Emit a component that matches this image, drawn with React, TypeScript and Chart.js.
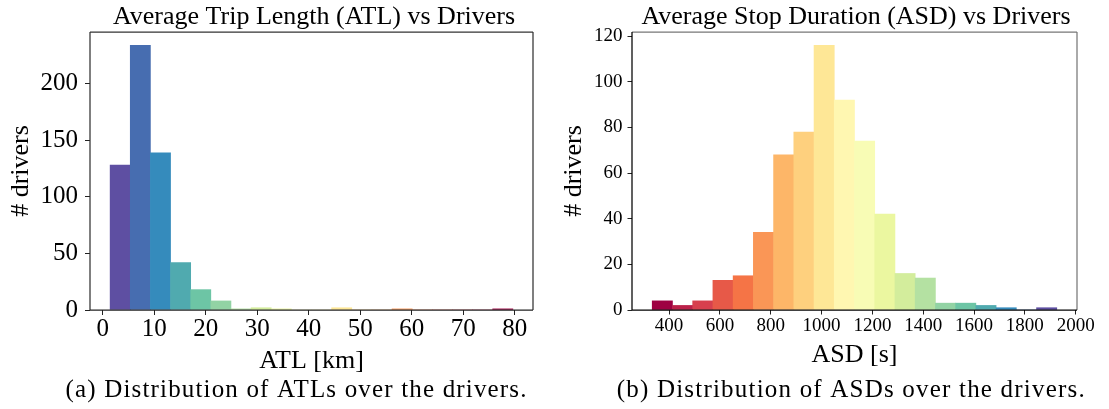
import React, { useEffect, useRef } from "react";
import { Chart, registerables } from "chart.js";

Chart.register(...registerables);

const SERIF = '"Liberation Serif", "Times New Roman", Times, serif';

// Average Trip Length: 20 equal-width bins (km) and number of drivers in each
const atlBinEdges = [
  1.42, 5.33, 9.24, 13.15, 17.06, 20.97, 24.88, 28.79, 32.7, 36.61, 40.52,
  44.43, 48.34, 52.25, 56.16, 60.07, 63.98, 67.89, 71.8, 75.71, 79.62,
];
const atlCounts = [128, 234, 139, 42, 18, 8, 1, 2, 1, 0, 0, 2, 0, 0, 1, 0, 0, 0, 0, 1];
const atlTicksX = [0, 10, 20, 30, 40, 50, 60, 70, 80];
const atlTicksY = [0, 50, 100, 150, 200];

// Average Stop Duration: 20 equal-width bins (s) and number of drivers in each
const asdBinEdges = [
  333.6, 413.2, 492.8, 572.4, 652.0, 731.6, 811.2, 890.8, 970.4, 1050.0, 1129.6,
  1209.2, 1288.8, 1368.4, 1448.0, 1527.6, 1607.2, 1686.8, 1766.4, 1846.0, 1925.6,
];
const asdCounts = [4, 2, 4, 13, 15, 34, 68, 78, 116, 92, 74, 42, 16, 14, 3, 3, 2, 1, 0, 1];
const asdTicksX = [400, 600, 800, 1000, 1200, 1400, 1600, 1800, 2000];
const asdTicksY = [0, 20, 40, 60, 80, 100, 120];

// matplotlib "Spectral" colormap anchors
const SPECTRAL = [
  "#9e0142", "#d53e4f", "#f46d43", "#fdae61", "#fee08b", "#ffffbf",
  "#e6f598", "#abdda4", "#66c2a5", "#3288bd", "#5e4fa2",
];

function hexToRgb(h: string): number[] {
  const v = parseInt(h.slice(1), 16);
  return [(v >> 16) & 255, (v >> 8) & 255, v & 255];
}

function spectral(t: number): string {
  const n = SPECTRAL.length - 1;
  const pos = Math.min(Math.max(t, 0), 1) * n;
  const i = Math.min(Math.floor(pos), n - 1);
  const f = pos - i;
  const a = hexToRgb(SPECTRAL[i]);
  const b = hexToRgb(SPECTRAL[i + 1]);
  const c = a.map((av, k) => Math.round(av + (b[k] - av) * f));
  return `rgb(${c[0]},${c[1]},${c[2]})`;
}

type PanelSpec = {
  edges: number[];
  counts: number[];
  xTicks: number[];
  yTicks: number[];
  reversedColors: boolean;
  title: string;
  xLabel: string;
  yLabel: string;
  caption: string;
  tickFont: number;
  tickLen: number;
  yTickPad: number;
  yScaleWidth: number;
  padRight: number;
  titleX: number;
  yLabelX: number;
  xLabelX: number;
  xLabelY: number;
  captionX: number;
  captionWidth: number;
  frame: { left: string; bottom: string; top: string; right: string };
};

const atlPanel: PanelSpec = {
  edges: atlBinEdges,
  counts: atlCounts,
  xTicks: atlTicksX,
  yTicks: atlTicksY,
  reversedColors: true,
  title: "Average Trip Length (ATL) vs Drivers",
  xLabel: "ATL [km]",
  yLabel: "# drivers",
  caption: "(a) Distribution of ATLs over the drivers.",
  tickFont: 25,
  tickLen: 5,
  yTickPad: 7,
  yScaleWidth: 90,
  padRight: 22,
  titleX: 314,
  yLabelX: 21,
  xLabelX: 311.5,
  xLabelY: 368,
  captionX: 296,
  captionWidth: 461,
  frame: { left: "#333", bottom: "#222", top: "#333", right: "#333" },
};

const asdPanel: PanelSpec = {
  edges: asdBinEdges,
  counts: asdCounts,
  xTicks: asdTicksX,
  yTicks: asdTicksY,
  reversedColors: false,
  title: "Average Stop Duration (ASD) vs Drivers",
  xLabel: "ASD [s]",
  yLabel: "# drivers",
  caption: "(b) Distribution of ASDs over the drivers.",
  tickFont: 19,
  tickLen: 4.5,
  yTickPad: 5,
  yScaleWidth: 78,
  padRight: 32,
  titleX: 302,
  yLabelX: 20.5,
  xLabelX: 300.5,
  xLabelY: 362,
  captionX: 296.7,
  captionWidth: 468,
  frame: { left: "#000", bottom: "#000", top: "#777", right: "#777" },
};

const CANVAS_W = 555;
const CANVAS_H = 409;
const PLOT_TOP = 32;
const X_SCALE_H = 40;
const PAD_BOTTOM = 59;

function buildConfig(p: PanelSpec): any {
  const n = p.counts.length;
  const centers = p.counts.map((_, i) => (p.edges[i] + p.edges[i + 1]) / 2);
  const colors = p.counts.map((_, i) => {
    const t = i / (n - 1);
    return spectral(p.reversedColors ? 1 - t : t);
  });
  const lo = p.edges[0];
  const hi = p.edges[p.edges.length - 1];
  const span = hi - lo;
  const yMax = Math.max(...p.counts) * 1.05;

  // axes box drawn over the bars
  const framePlugin = {
    id: "frame",
    afterDatasetsDraw(chart: any) {
      const { ctx, chartArea: a } = chart;
      ctx.save();
      ctx.lineWidth = 1.25;
      const seg = (c: string, x1: number, y1: number, x2: number, y2: number) => {
        ctx.strokeStyle = c;
        ctx.beginPath();
        ctx.moveTo(x1, y1);
        ctx.lineTo(x2, y2);
        ctx.stroke();
      };
      seg(p.frame.top, a.left, a.top, a.right, a.top);
      seg(p.frame.right, a.right, a.top, a.right, a.bottom);
      seg(p.frame.left, a.left, a.top, a.left, a.bottom);
      seg(p.frame.bottom, a.left, a.bottom, a.right, a.bottom);
      ctx.restore();
    },
  };

  // title, axis labels and sub-figure caption
  const textPlugin = {
    id: "panelText",
    afterDraw(chart: any) {
      const { ctx, chartArea: a } = chart;
      ctx.save();
      ctx.fillStyle = "#000";
      ctx.font = `26px ${SERIF}`;
      ctx.textAlign = "center";
      ctx.textBaseline = "alphabetic";
      ctx.fillText(p.title, p.titleX, 24);
      ctx.fillText(p.xLabel, p.xLabelX, p.xLabelY);
      ctx.save();
      ctx.translate(p.yLabelX, (a.top + a.bottom) / 2);
      ctx.rotate(-Math.PI / 2);
      ctx.textBaseline = "middle";
      ctx.fillText(p.yLabel, 0, 0);
      ctx.restore();
      ctx.font = `25px ${SERIF}`;
      ctx.textAlign = "left";
      (ctx as any).letterSpacing = "0px";
      const w = ctx.measureText(p.caption).width;
      const ls = Math.max(0, (p.captionWidth - w) / (p.caption.length - 1));
      (ctx as any).letterSpacing = `${ls}px`;
      ctx.fillText(p.caption, p.captionX - p.captionWidth / 2, 396.5);
      ctx.restore();
    },
  };

  return {
    type: "bar",
    data: {
      datasets: [
        {
          data: centers.map((x, i) => ({ x, y: p.counts[i] })),
          backgroundColor: colors,
          borderWidth: 0,
          barPercentage: 1,
          categoryPercentage: 1,
        },
      ],
    },
    options: {
      animation: false,
      responsive: false,
      devicePixelRatio: 1,
      layout: {
        padding: { top: PLOT_TOP, right: p.padRight, bottom: PAD_BOTTOM, left: 0 },
      },
      plugins: {
        legend: { display: false },
        tooltip: { enabled: false },
        title: { display: false },
      },
      scales: {
        x: {
          type: "linear",
          offset: false,
          min: lo - 0.05 * span,
          max: hi + 0.05 * span,
          afterBuildTicks: (s: any) => {
            s.ticks = p.xTicks.map((v) => ({ value: v }));
          },
          afterFit: (s: any) => {
            s.height = X_SCALE_H;
          },
          grid: {
            offset: false,
            drawOnChartArea: false,
            drawTicks: true,
            tickLength: p.tickLen,
            color: "#222",
          },
          border: { display: false },
          ticks: {
            autoSkip: false,
            maxRotation: 0,
            padding: 2,
            color: "#000",
            font: { family: SERIF, size: p.tickFont, lineHeight: 1 },
            callback: (v: any) => String(v),
          },
        },
        y: {
          type: "linear",
          min: 0,
          max: yMax,
          afterBuildTicks: (s: any) => {
            s.ticks = p.yTicks.map((v) => ({ value: v }));
          },
          afterFit: (s: any) => {
            s.width = p.yScaleWidth;
          },
          grid: {
            drawOnChartArea: false,
            drawTicks: true,
            tickLength: p.tickLen,
            color: "#222",
          },
          border: { display: false },
          ticks: {
            padding: p.yTickPad,
            color: "#000",
            font: { family: SERIF, size: p.tickFont, lineHeight: 1 },
            callback: (v: any) => String(v),
          },
        },
      },
    },
    plugins: [framePlugin, textPlugin],
  };
}

function Panel({ spec, left }: { spec: PanelSpec; left: number }) {
  const ref = useRef<HTMLCanvasElement>(null);
  useEffect(() => {
    if (!ref.current) return;
    const chart = new Chart(ref.current, buildConfig(spec));
    return () => chart.destroy();
  }, [spec]);
  return (
    <canvas
      ref={ref}
      width={CANVAS_W}
      height={CANVAS_H}
      style={{ position: "absolute", left, top: 0, width: CANVAS_W, height: CANVAS_H }}
    />
  );
}

export default function App() {
  return (
    <div
      style={{
        position: "fixed",
        left: 0,
        top: 0,
        width: 1109,
        height: 409,
        background: "#fff",
        overflow: "hidden",
      }}
    >
      <Panel spec={atlPanel} left={0} />
      <Panel spec={asdPanel} left={554} />
    </div>
  );
}
